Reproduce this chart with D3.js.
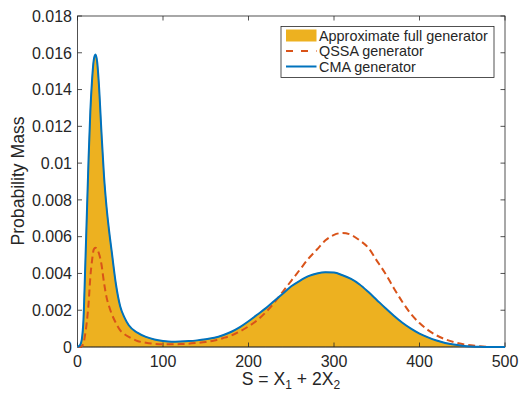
<!DOCTYPE html>
<html><head><meta charset="utf-8">
<script src="https://cdn.jsdelivr.net/npm/d3@7"></script>
<style>
html,body{margin:0;padding:0;background:#fff;}
text{font-family:"Liberation Sans",Arial,Helvetica,sans-serif;fill:#262626;}
</style></head>
<body>
<svg id="c" width="520" height="393"></svg>
<script>
// S values (x grid)
const sValues = [0,3,5,7,9,11,13,15,17,19,21,23,25,28,31,34,37,40,45,50,55,60,70,80,90,100,110,120,130,140,150,160,170,180,190,200,210,220,230,240,250,260,270,280,290,300,310,320,330,340,350,360,370,380,390,400,410,420,430,440,450,460,470,480,490,500];
// Approximate full generator (filled area)
const fullGen = [0,0.0001,0.0004,0.0015,0.0043,0.0073,0.0103,0.0128,0.0145,0.0156,0.0159,0.0155,0.0143,0.0117,0.0093,0.0076,0.0063,0.0052,0.0034,0.0022,0.0016,0.00118,0.00078,0.00055,0.00041,0.00033,0.00029,0.0003,0.00032,0.00036,0.00042,0.0005,0.00064,0.00083,0.00108,0.0014,0.00175,0.0021,0.0025,0.0029,0.0033,0.0036,0.00385,0.004,0.00407,0.00405,0.0039,0.0037,0.0034,0.003,0.00256,0.00212,0.0017,0.00132,0.001,0.00073,0.00052,0.00035,0.00022,0.00013,0.00007,0.00003,0.00001,0,0,0];
// CMA generator
const cmaGen = [0,0.0001,0.0004,0.0015,0.0043,0.0073,0.0103,0.0128,0.0145,0.0156,0.0159,0.0155,0.0143,0.0117,0.0093,0.0076,0.0063,0.0052,0.0034,0.0022,0.0016,0.00118,0.00078,0.00055,0.00041,0.00033,0.00029,0.0003,0.00032,0.00036,0.00042,0.0005,0.00064,0.00083,0.00108,0.0014,0.00175,0.0021,0.0025,0.0029,0.0033,0.0036,0.00385,0.004,0.00407,0.00405,0.0039,0.0037,0.0034,0.003,0.00256,0.00212,0.0017,0.00132,0.001,0.00073,0.00052,0.00035,0.00022,0.00013,0.00007,0.00003,0.00001,0,0,0];
// QSSA generator
const qssaGen = [0,0,0.00005,0.0002,0.0007,0.0014,0.0024,0.0038,0.0047,0.0053,0.0054,0.0053,0.0051,0.0045,0.0035,0.0027,0.0022,0.0018,0.0013,0.0009,0.0007,0.00055,0.00033,0.00023,0.00017,0.00015,0.00015,0.00016,0.00018,0.00022,0.00027,0.00035,0.00048,0.00063,0.00085,0.00112,0.00145,0.00188,0.0024,0.003,0.0036,0.0042,0.0048,0.0053,0.0058,0.0061,0.0062,0.0061,0.0058,0.0054,0.0047,0.004,0.0032,0.00245,0.0018,0.0013,0.00092,0.00063,0.00042,0.00027,0.00016,0.00009,0.00004,0.00001,0,0];
const xTicks = [0,100,200,300,400,500];
const yTicks = [0,0.002,0.004,0.006,0.008,0.01,0.012,0.014,0.016,0.018];
const legendLabels = ["Approximate full generator","QSSA generator","CMA generator"];

const C = {fill:"#EDB120", qssa:"#D95319", cma:"#0072BD", axis:"#262626"};
const L = 77.5, R = 505, T = 16, B = 347;
const svg = d3.select("#c");
const x = d3.scaleLinear().domain([0,500]).range([L,R]);
const y = d3.scaleLinear().domain([0,0.018]).range([B,T]);

const pts = a => sValues.map((s,i)=>[s,a[i]]);

// area
svg.append("path").datum(pts(fullGen))
  .attr("d", d3.area().x(d=>x(d[0])).y0(y(0)).y1(d=>y(d[1])).curve(d3.curveMonotoneX))
  .attr("fill", C.fill).attr("stroke","#3a3020").attr("stroke-width",0.6);

// axes box
const ax = svg.append("g");
ax.append("rect").attr("x",L).attr("y",T).attr("width",R-L).attr("height",B-T)
  .attr("fill","none").attr("stroke",C.axis).attr("stroke-width",0.8);

// ticks
const tl = 4.5;
xTicks.forEach(t=>{
  const px = x(t);
  ax.append("line").attr("x1",px).attr("x2",px).attr("y1",B).attr("y2",B-tl).attr("stroke",C.axis).attr("stroke-width",0.8);
  ax.append("line").attr("x1",px).attr("x2",px).attr("y1",T).attr("y2",T+tl).attr("stroke",C.axis).attr("stroke-width",0.8);
  ax.append("text").attr("x",px).attr("y",366.5).attr("text-anchor","middle").attr("font-size",16).text(d3.format("d")(t));
});
yTicks.forEach(t=>{
  const py = y(t);
  ax.append("line").attr("x1",L).attr("x2",L+tl).attr("y1",py).attr("y2",py).attr("stroke",C.axis).attr("stroke-width",0.8);
  ax.append("line").attr("x1",R).attr("x2",R-tl).attr("y1",py).attr("y2",py).attr("stroke",C.axis).attr("stroke-width",0.8);
  ax.append("text").attr("x",72).attr("y",py).attr("dy","0.36em").attr("text-anchor","end").attr("font-size",16).text(t===0?"0":String(+t.toFixed(3)));
});

// QSSA dashed
svg.append("path").datum(pts(qssaGen))
  .attr("d", d3.line().x(d=>x(d[0])).y(d=>y(d[1])).curve(d3.curveMonotoneX))
  .attr("fill","none").attr("stroke",C.qssa).attr("stroke-width",2).attr("stroke-dasharray","7,4");
// CMA
svg.append("path").datum(pts(cmaGen))
  .attr("d", d3.line().x(d=>x(d[0])).y(d=>y(d[1])).curve(d3.curveMonotoneX))
  .attr("fill","none").attr("stroke",C.cma).attr("stroke-width",2);

// axis labels
svg.append("text").attr("transform","translate(24,181) rotate(-90)").attr("text-anchor","middle")
  .attr("font-size",17.6).text("Probability Mass");
const xl = svg.append("text").attr("x",291).attr("y",384.5).attr("text-anchor","middle").attr("font-size",17.6);
xl.append("tspan").text("S = X");
xl.append("tspan").attr("font-size",12).attr("dy",4.5).text("1");
xl.append("tspan").attr("dy",-4.5).text(" + 2X");
xl.append("tspan").attr("font-size",12).attr("dy",4.5).text("2");

// legend
const lg = svg.append("g");
lg.append("rect").attr("x",281).attr("y",26.5).attr("width",213).attr("height",51)
  .attr("fill","#fff").attr("stroke",C.axis).attr("stroke-width",0.8);
const rows = [35.5,51,66.5];
lg.append("rect").attr("x",286).attr("y",rows[0]-6).attr("width",30.5).attr("height",12).attr("fill",C.fill);
lg.append("line").attr("x1",286).attr("x2",316.5).attr("y1",rows[1]).attr("y2",rows[1])
  .attr("stroke",C.qssa).attr("stroke-width",2).attr("stroke-dasharray","7,8");
lg.append("line").attr("x1",286).attr("x2",316.5).attr("y1",rows[2]).attr("y2",rows[2])
  .attr("stroke",C.cma).attr("stroke-width",2);
legendLabels.forEach((t,i)=>{
  lg.append("text").attr("x",319).attr("y",rows[i]).attr("dy","0.36em").attr("font-size",14.4).text(t);
});
</script>
</body></html>
